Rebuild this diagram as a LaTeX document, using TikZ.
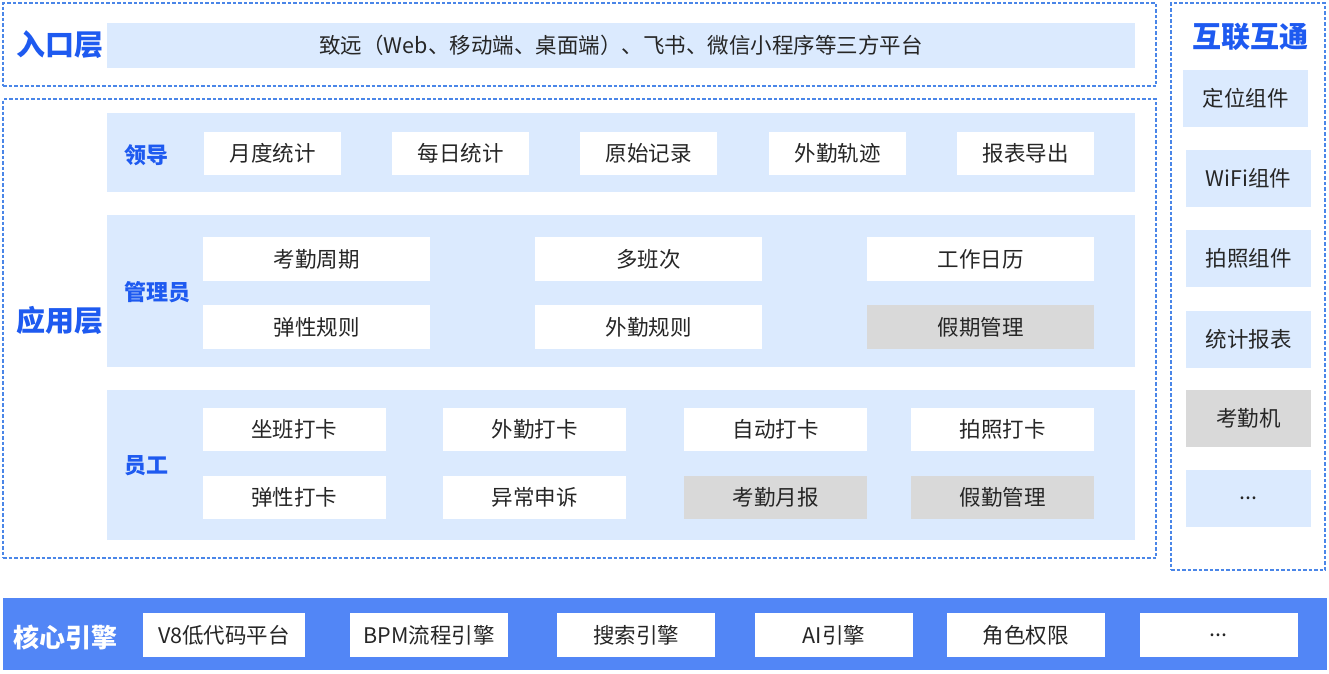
\documentclass[tikz,border=0pt]{standalone}
\usepackage{fontspec}
\setmainfont{Noto Sans CJK SC}
\definecolor{titleblue}{HTML}{1E5AF0}
\definecolor{bandblue}{HTML}{DBEAFE}
\definecolor{dashblue}{HTML}{4A86E8}
\definecolor{coreblue}{HTML}{5286F6}
\definecolor{cellgrey}{HTML}{D9D9D9}
\definecolor{celltext}{HTML}{262626}
\begin{document}
\begin{tikzpicture}[x=1pt,y=-1pt,
  layerbox/.style={draw=dashblue,line width=1.2pt,dash pattern=on 3.5pt off 2pt,inner sep=0pt},
  band/.style={fill=bandblue,inner sep=0pt},
  cell/.style={fill=white,inner sep=0pt,minimum height=43,text=celltext,font=\fontsize{21.5}{24}\selectfont},
  offcell/.style={cell,fill=cellgrey},
  sidecell/.style={cell,fill=bandblue,minimum width=125,minimum height=57},
  corecell/.style={cell,minimum width=158,minimum height=44},
  layertitle/.style={text=titleblue,font=\fontsize{29}{32}\selectfont\bfseries},
  roletitle/.style={text=titleblue,font=\fontsize{22}{24}\selectfont\bfseries}]
\useasboundingbox (0,0) rectangle (1329,673);
\node(entry)[layerbox,minimum width=1153,minimum height=83] at (579.5,44.5){};
\node(entry-band)[band,minimum width=1028,minimum height=45,text=celltext,font=\fontsize{21.5}{24}\selectfont] at (621,45.5){致远（Web、移动端、桌面端）、飞书、微信小程序等三方平台};
\node(entry-title)[layertitle] at (60,45){入口层};
\node(app)[layerbox,minimum width=1153,minimum height=459] at (579.5,328.5){};
\node(app-title)[layertitle] at (60,320){应用层};
\node(leader)[band,minimum width=1028,minimum height=79] at (621,152.5){};
\node(leader-title)[roletitle] at (146,155){领导};
\node(ydtj)[cell,minimum width=137] at (272.5,153.5){月度统计};
\node(mrtj)[cell,minimum width=137] at (460.5,153.5){每日统计};
\node(ysjl)[cell,minimum width=137] at (648.5,153.5){原始记录};
\node(wqgj)[cell,minimum width=137] at (837.5,153.5){外勤轨迹};
\node(bbdc)[cell,minimum width=137] at (1025.5,153.5){报表导出};
\node(admin)[band,minimum width=1028,minimum height=152] at (621,291){};
\node(admin-title)[roletitle] at (157,292){管理员};
\node(kqzq)[cell,minimum width=227,minimum height=44] at (316.5,259){考勤周期};
\node(dbc)[cell,minimum width=227,minimum height=44] at (648.5,259){多班次};
\node(gzrl)[cell,minimum width=227,minimum height=44] at (980.5,259){工作日历};
\node(txgz)[cell,minimum width=227,minimum height=44] at (316.5,327){弹性规则};
\node(wqgz)[cell,minimum width=227,minimum height=44] at (648.5,327){外勤规则};
\node(jqgl)[offcell,minimum width=227,minimum height=44] at (980.5,327){假期管理};
\node(staff)[band,minimum width=1028,minimum height=150] at (621,465){};
\node(staff-title)[roletitle] at (146,466){员工};
\node(zbdk)[cell,minimum width=183] at (294,429.5){坐班打卡};
\node(wqdk)[cell,minimum width=183] at (534.5,429.5){外勤打卡};
\node(zddk)[cell,minimum width=183] at (775.5,429.5){自动打卡};
\node(pzdk)[cell,minimum width=183] at (1002.5,429.5){拍照打卡};
\node(txdk)[cell,minimum width=183] at (294,497.5){弹性打卡};
\node(ycss)[cell,minimum width=183] at (534.5,497.5){异常申诉};
\node(kqyb)[offcell,minimum width=183] at (775.5,497.5){考勤月报};
\node(jqgl2)[offcell,minimum width=183] at (1002.5,497.5){假勤管理};
\node(link)[layerbox,minimum width=154,minimum height=567] at (1248,286.5){};
\node(link-title)[layertitle] at (1250,37){互联互通};
\node(dwzj)[sidecell] at (1245.5,98.5){定位组件};
\node(wfzj)[sidecell] at (1248.5,178.5){WiFi组件};
\node(pzzj)[sidecell] at (1248.5,258.5){拍照组件};
\node(tjbb)[sidecell] at (1248.5,339.5){统计报表};
\node(kqj)[sidecell,fill=cellgrey] at (1248.5,418.5){考勤机};
\node(more)[sidecell] at (1248.5,498.5){...};
\node(core)[fill=coreblue,inner sep=0pt,minimum width=1324,minimum height=72] at (665,634){};
\node(core-title)[text=white,font=\fontsize{26}{28}\selectfont\bfseries] at (65,637){核心引擎};
\node(v8)[corecell,minimum width=162] at (224,635){V8低代码平台};
\node(bpm)[corecell] at (429,635){BPM流程引擎};
\node(ss)[corecell] at (636,635){搜索引擎};
\node(ai)[corecell] at (834,635){AI引擎};
\node(js)[corecell] at (1025.5,635){角色权限};
\node(core-more)[corecell] at (1218.5,635){...};
\end{tikzpicture}
\end{document}
